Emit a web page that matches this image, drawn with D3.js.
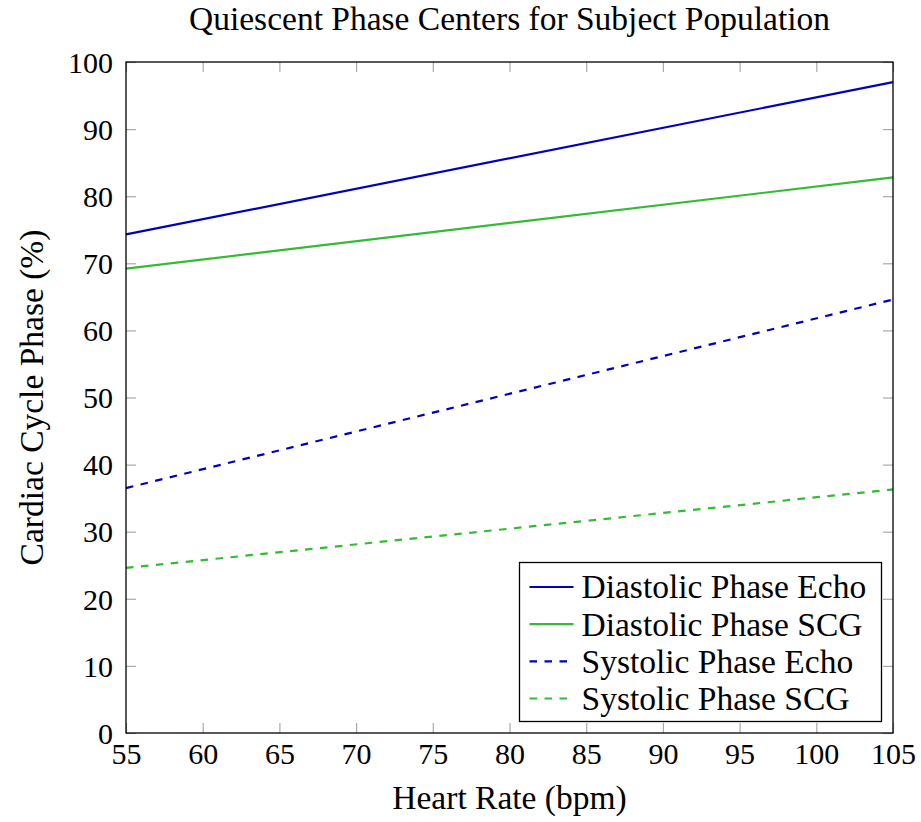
<!DOCTYPE html>
<html>
<head>
<meta charset="utf-8">
<script src="https://cdn.jsdelivr.net/npm/d3@7"></script>
<style>
  html, body { margin: 0; padding: 0; background: #fff; }
  svg { display: block; }
  text { font-family: "Liberation Serif", "Times New Roman", serif; fill: #000; }
</style>
</head>
<body>
<svg id="chart" width="921" height="822"></svg>
<script>
// Heart rate range (bpm) at which each phase center is evaluated
const heartRate = [55, 105];

// Quiescent phase centers (% of cardiac cycle)
const diastolicEcho = [74.3, 97.0];
const diastolicSCG  = [69.2, 82.8];
const systolicEcho  = [36.5, 64.6];
const systolicSCG   = [24.6, 36.3];

const seriesNames = ["Diastolic Phase Echo", "Diastolic Phase SCG", "Systolic Phase Echo", "Systolic Phase SCG"];
const seriesValues = [diastolicEcho, diastolicSCG, systolicEcho, systolicSCG];
const seriesColors = ["#0000c0", "#33bb33", "#0000c0", "#33bb33"];
const seriesDashed = [false, false, true, true];

const xTicks = [55, 60, 65, 70, 75, 80, 85, 90, 95, 100, 105];
const yTicks = [0, 10, 20, 30, 40, 50, 60, 70, 80, 90, 100];

const titleText = "Quiescent Phase Centers for Subject Population";
const xLabelText = "Heart Rate (bpm)";
const yLabelText = "Cardiac Cycle Phase (%)";

const margin = { left: 126, right: 28, top: 62, bottom: 89 };
const W = 921, H = 822;
const plotW = W - margin.left - margin.right;
const plotH = H - margin.top - margin.bottom;

const svg = d3.select("#chart");
const g = svg.append("g").attr("transform", `translate(${margin.left},${margin.top})`);

const x = d3.scaleLinear().domain([55, 105]).range([0, plotW]);
const y = d3.scaleLinear().domain([0, 100]).range([plotH, 0]);

const tickLen = 10;
const tickColor = "#aaaaaa";
const tickFont = 30;
const labelFont = 33.5;

// Inward ticks on all four sides
function styleTicks(sel) {
  sel.select(".domain").remove();
  sel.selectAll(".tick line").attr("stroke", tickColor).attr("stroke-width", 1.2);
}

const xBottom = g.append("g").attr("transform", `translate(0,${plotH})`)
  .call(d3.axisBottom(x).tickValues(xTicks).tickSizeInner(-tickLen).tickSizeOuter(0).tickPadding(12));
styleTicks(xBottom);
xBottom.selectAll(".tick text").attr("font-size", tickFont).attr("dy", "0.62em")
  .style("font-family", '"Liberation Serif", serif').attr("fill", "#000");

const xTop = g.append("g")
  .call(d3.axisTop(x).tickValues(xTicks).tickSizeInner(-tickLen).tickSizeOuter(0).tickFormat(""));
styleTicks(xTop);

const yLeft = g.append("g")
  .call(d3.axisLeft(y).tickValues(yTicks).tickSizeInner(-tickLen).tickSizeOuter(0).tickPadding(13));
styleTicks(yLeft);
yLeft.selectAll(".tick text").attr("font-size", tickFont).attr("dy", "0.34em")
  .style("font-family", '"Liberation Serif", serif').attr("fill", "#000");

const yRight = g.append("g").attr("transform", `translate(${plotW},0)`)
  .call(d3.axisRight(y).tickValues(yTicks).tickSizeInner(-tickLen).tickSizeOuter(0).tickFormat(""));
styleTicks(yRight);

// Series lines
const line = d3.line().x((d, i) => x(heartRate[i])).y(d => y(d));
seriesValues.forEach((vals, k) => {
  g.append("path")
    .datum(vals)
    .attr("fill", "none")
    .attr("stroke", seriesColors[k])
    .attr("stroke-width", 2.2)
    .attr("stroke-dasharray", seriesDashed[k] ? "7.5,7.5" : null)
    .attr("d", line);
});

// Plot frame
g.append("rect")
  .attr("x", 0).attr("y", 0).attr("width", plotW).attr("height", plotH)
  .attr("fill", "none").attr("stroke", "#000").attr("stroke-width", 1.3);

// Title and axis labels
svg.append("text")
  .attr("x", margin.left + plotW / 2).attr("y", 30)
  .attr("text-anchor", "middle").attr("font-size", labelFont)
  .text(titleText);

svg.append("text")
  .attr("x", margin.left + plotW / 2).attr("y", 809)
  .attr("text-anchor", "middle").attr("font-size", labelFont)
  .text(xLabelText);

svg.append("text")
  .attr("transform", `translate(43,${margin.top + plotH / 2}) rotate(-90)`)
  .attr("text-anchor", "middle").attr("font-size", labelFont)
  .text(yLabelText);

// Legend
const legend = svg.append("g").attr("transform", "translate(519.5,562.5)");
const legW = 362, legH = 159;
legend.append("rect").attr("width", legW).attr("height", legH)
  .attr("fill", "#fff").attr("stroke", "#000").attr("stroke-width", 1.3);
const rowY = d3.scalePoint().domain(seriesNames).range([24.5, 136]);
seriesNames.forEach((name, k) => {
  const yy = rowY(name);
  legend.append("line")
    .attr("x1", 10).attr("x2", 54).attr("y1", yy).attr("y2", yy)
    .attr("stroke", seriesColors[k]).attr("stroke-width", 2.2)
    .attr("stroke-dasharray", seriesDashed[k] ? "7.5,7.5" : null);
  legend.append("text")
    .attr("x", 62).attr("y", yy).attr("dy", "0.34em")
    .attr("font-size", labelFont)
    .text(name);
});
</script>
</body>
</html>
